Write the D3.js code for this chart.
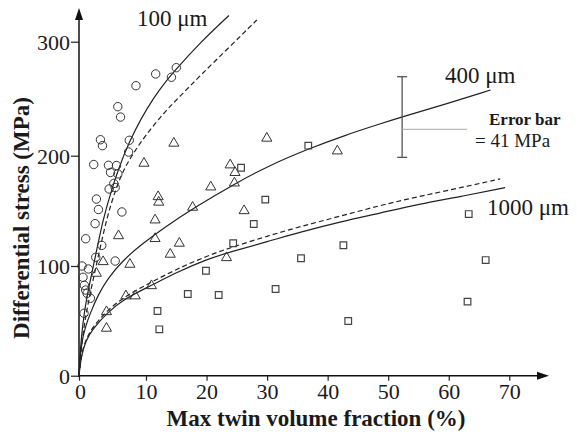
<!DOCTYPE html>
<html>
<head>
<meta charset="utf-8">
<script src="https://cdn.jsdelivr.net/npm/d3@7"></script>
<style>
  body { margin: 0; background: #fff; }
  svg { display: block; }
  text { font-family: "Liberation Serif", "Times New Roman", serif; fill: #1a1a1a; }
</style>
</head>
<body>
<div id="chart"></div>
<script>
// data: [twin volume fraction %, differential stress MPa]
var pts100 = [[15.0,277.2],[14.2,268.8],[11.6,271.7],[8.5,261.4],[5.8,243.0],[6.2,233.9],
  [3.2,214.0],[3.5,208.8],[7.5,213.5],[7.4,203.2],[2.2,192.0],[4.4,191.3],[5.6,191.1],
  [4.7,184.8],[5.8,183.5],[5.2,174.8],[4.5,169.8],[5.4,171.1],[2.6,160.7],[2.9,151.2],
  [6.4,149.0],[2.4,138.4],[1.0,124.7],[3.4,118.7],[2.5,107.9],[5.4,104.5],[0.45,100.0],
  [1.4,97.3],[0.6,89.7],[0.8,82.4],[1.0,78.1],[1.2,75.1],[1.7,70.6],[0.75,56.9]];

var pts400 = [[14.6,210.9],[29.95,215.3],[41.6,204.1],[23.9,191.6],[24.7,184.7],[24.6,175.2],
  [20.7,171.6],[12.0,162.8],[12.1,157.8],[17.7,153.2],[26.2,150.1],[11.5,141.7],[11.5,124.8],
  [15.5,120.6],[14.0,110.6],[23.3,107.5],[10.9,82.0],[9.7,193.1],[5.9,127.4],[3.6,103.9],
  [2.6,93.3],[7.6,101.5],[7.0,72.7],[8.4,72.7],[4.1,58.3],[4.1,43.2]];

var pts1000 = [[36.8,208.8],[25.7,189.1],[29.7,160.2],[27.8,138.1],[24.4,120.6],[42.6,118.8],
  [35.6,107.0],[19.9,95.7],[16.9,74.5],[22.0,73.6],[31.4,79.0],[11.9,59.0],[12.2,42.3],
  [43.4,49.9],[63.3,147.1],[66.1,105.4],[63.1,67.5]];

// fitted curves
var fit100 = [[0,0],[0.25,30],[0.75,57],[1.5,82],[2.5,110],[3.5,140],[4.7,166],[6.0,190],
  [7.5,212],[9.2,232],[11.3,251],[13.1,264],[15.0,276],[18.9,299],[23.7,323]];
var fit100Dash = [[0,0],[0.4,30],[1.0,55],[1.9,82],[3.0,112],[4.2,145],[5.5,170],[6.7,188],
  [8.2,203],[9.95,218],[13.0,238],[15.6,252],[18.9,270],[23.9,296],[28.3,319]];
var fit400 = [[0,0],[0.3,28],[0.9,44],[1.75,58],[2.8,73],[4.2,88],[6.7,106],[9.2,119],
  [13.0,135],[18.6,155],[24.5,174],[29.9,190],[36.8,206],[42.9,218],[48.7,228],
  [52.3,234],[58.7,244],[66.9,257.6]];
var fit1000 = [[0,0],[0.3,17],[1,32],[2,42],[4.1,57],[7,71],[10.8,82],[15,94],[20,106],[24.4,113.6],
  [30,122],[35.6,131],[42,140],[48.7,148],[55,156],[62,163],[69.3,171]];
var fit1000Dash = [[0,0],[0.3,18],[1,33],[2,44],[4.1,59],[7,73],[10.8,85],[15,97],[20,109],[24.4,117.5],
  [30,127],[35.6,136],[42,145],[48.7,155],[55,163],[62,171],[68.5,179]];

var xTicks = [0, 10, 20, 30, 40, 50, 60, 70];
var yTicks = [0, 100, 200, 300];
var errorBar = { x: 52.3, low: 198.5, high: 269.3 };

function draw() {
    var w = 577, h = 432;

    var svg = d3.select("#chart").append("svg")
        .attr("width", w)
        .attr("height", h);

    // the original axes are not quite evenly spaced
    var xScale = d3.scaleLinear().domain([0, 10, 70]).range([79, 146, 509.3]);
    var yScale = d3.scaleLinear().domain([0, 100, 200, 300]).range([375.7, 266, 155.7, 41.7]);

    var x0 = xScale(0), y0 = yScale(0);

    // axes
    var yAxis = d3.axisLeft(yScale).tickValues(yTicks).tickSize(8).tickPadding(1).tickSizeOuter(0);
    var xAxis = d3.axisBottom(xScale).tickValues(xTicks).tickSize(5).tickPadding(3).tickSizeOuter(0);

    var gy = svg.append("g").attr("transform", "translate(" + x0 + ",0)").call(yAxis);
    var gx = svg.append("g").attr("transform", "translate(0," + y0 + ")").call(xAxis);

    [gx, gy].forEach(function (g) {
        g.select(".domain").remove();
        g.selectAll("line").attr("stroke", "#222").attr("stroke-width", 1.2);
        g.selectAll("text")
            .style("font-family", "'Liberation Serif', serif")
            .style("font-size", "22px")
            .attr("fill", "#1a1a1a");
    });
    gx.select(".tick text").attr("dx", 1);
    gy.selectAll("text").attr("dy", "0.35em");

    svg.append("line")
        .attr("x1", x0).attr("y1", y0 + 1).attr("x2", x0).attr("y2", 18)
        .attr("stroke", "#111").attr("stroke-width", 1.5);
    svg.append("line")
        .attr("x1", x0 - 1).attr("y1", y0).attr("x2", 539).attr("y2", y0)
        .attr("stroke", "#111").attr("stroke-width", 1.5);
    svg.append("path")
        .attr("d", "M" + x0 + ",8 L" + (x0 - 4) + ",20 L" + (x0 + 4) + ",20 Z")
        .attr("fill", "#111");
    svg.append("path")
        .attr("d", "M549," + y0 + " L537," + (y0 - 4) + " L537," + (y0 + 4) + " Z")
        .attr("fill", "#111");

    // axis titles
    svg.append("text")
        .attr("x", 316).attr("y", 426)
        .attr("text-anchor", "middle")
        .style("font-size", "23px").style("font-weight", "bold")
        .text("Max twin volume fraction (%)");
    svg.append("text")
        .attr("transform", "translate(29,218) rotate(-90)")
        .attr("text-anchor", "middle")
        .style("font-size", "23px").style("font-weight", "bold")
        .text("Differential stress (MPa)");

    // curves
    var line = d3.line()
        .x(function (d) { return xScale(d[0]); })
        .y(function (d) { return yScale(d[1]); })
        .curve(d3.curveBasis);

    var curves = [
        { data: fit100, dash: null },
        { data: fit100Dash, dash: "5,3" },
        { data: fit400, dash: null },
        { data: fit1000, dash: null },
        { data: fit1000Dash, dash: "5,3" }
    ];
    svg.selectAll("path.fit")
        .data(curves)
        .enter()
        .append("path")
        .attr("class", "fit")
        .attr("d", function (d) { return line(d.data); })
        .attr("fill", "none")
        .attr("stroke", "#222")
        .attr("stroke-width", 1.2)
        .attr("stroke-dasharray", function (d) { return d.dash; });

    // markers
    svg.selectAll("circle.p100")
        .data(pts100)
        .enter()
        .append("circle")
        .attr("class", "p100")
        .attr("cx", function (d) { return xScale(d[0]); })
        .attr("cy", function (d) { return yScale(d[1]); })
        .attr("r", 4.2)
        .attr("fill", "none")
        .attr("stroke", "#333")
        .attr("stroke-width", 1);

    var tri = d3.symbol().type(d3.symbolTriangle).size(44);
    svg.selectAll("path.p400")
        .data(pts400)
        .enter()
        .append("path")
        .attr("class", "p400")
        .attr("d", tri)
        .attr("transform", function (d) {
            return "translate(" + xScale(d[0]) + "," + yScale(d[1]) + ")";
        })
        .attr("fill", "none")
        .attr("stroke", "#333")
        .attr("stroke-width", 1);

    var sq = d3.symbol().type(d3.symbolSquare).size(44);
    svg.selectAll("path.p1000")
        .data(pts1000)
        .enter()
        .append("path")
        .attr("class", "p1000")
        .attr("d", sq)
        .attr("transform", function (d) {
            return "translate(" + xScale(d[0]) + "," + yScale(d[1]) + ")";
        })
        .attr("fill", "none")
        .attr("stroke", "#444")
        .attr("stroke-width", 1.2);

    // error bar
    var ex = xScale(errorBar.x);
    var eb = svg.append("g").attr("stroke", "#555").attr("stroke-width", 1.3);
    eb.append("line").attr("x1", ex).attr("x2", ex)
        .attr("y1", yScale(errorBar.high)).attr("y2", yScale(errorBar.low));
    eb.append("line").attr("x1", ex - 5).attr("x2", ex + 5)
        .attr("y1", yScale(errorBar.high)).attr("y2", yScale(errorBar.high));
    eb.append("line").attr("x1", ex - 5).attr("x2", ex + 5)
        .attr("y1", yScale(errorBar.low)).attr("y2", yScale(errorBar.low));
    svg.append("line")
        .attr("x1", ex).attr("x2", 467).attr("y1", 129.3).attr("y2", 129.3)
        .attr("stroke", "#aaa").attr("stroke-width", 1);

    svg.append("text").attr("x", 489).attr("y", 125)
        .style("font-size", "17px").style("font-weight", "bold")
        .attr("fill", "#1c1c36")
        .text("Error bar");
    svg.append("text").attr("x", 475).attr("y", 147)
        .style("font-size", "19px")
        .text("= 41 MPa");

    // size labels
    svg.append("text").attr("x", 137).attr("y", 26).style("font-size", "23px").text("100 \u03bcm");
    svg.append("text").attr("x", 445).attr("y", 83).style("font-size", "23px").text("400 \u03bcm");
    svg.append("text").attr("x", 487).attr("y", 215).style("font-size", "23px").text("1000 \u03bcm");
}

window.onload = draw;
</script>
</body>
</html>
